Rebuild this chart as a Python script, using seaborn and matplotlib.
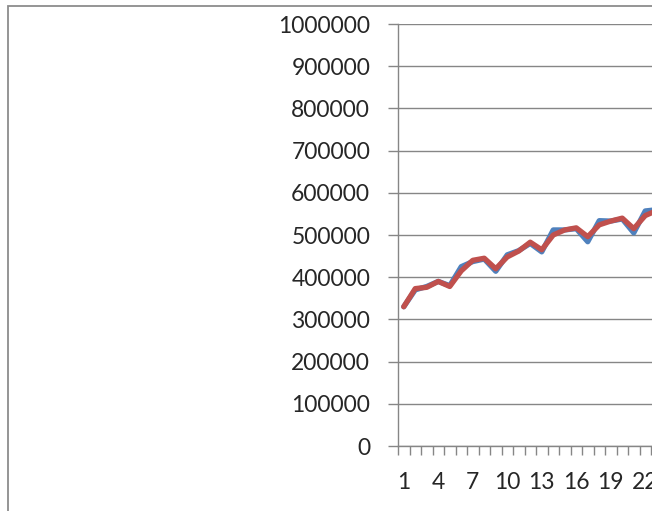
import numpy as np
import pandas as pd
import seaborn as sns
import matplotlib.pyplot as plt
from matplotlib.patches import Rectangle

# Values (only the first ~24 points are visible)
points = list(range(1, 25))
series_a = [330000, 370000, 378000, 390000, 380000, 425000, 437000, 443000,
            414000, 453000, 463000, 480000, 460000, 512000, 512000, 515000,
            484000, 534000, 533000, 538000, 505000, 557000, 560000, 566000]
series_b = [330000, 373000, 376000, 390000, 378000, 415000, 440000, 445000,
            420000, 448000, 462000, 483000, 465000, 500000, 512000, 517000,
            496000, 524000, 533000, 540000, 515000, 546000, 558000, 564000]
y_ticks = list(range(0, 1000001, 100000))

df = pd.DataFrame({
    'idx': list(range(len(points))) * 2,
    'value': series_a + series_b,
    'series': ['A'] * len(points) + ['B'] * len(points),
})

sns.set_style('white')
plt.rcParams['font.family'] = ['Lato', 'DejaVu Sans']

W, H = 659, 511
fig = plt.figure(figsize=(W / 100, H / 100), dpi=100)
fig.patch.set_facecolor('white')

grey = '#868686'
left, right, top, bottom = 398, 652, 24, 446
ax = fig.add_axes([left / W, (H - bottom) / H, (right - left) / W, (bottom - top) / H])

sns.lineplot(data=df, x='idx', y='value', hue='series',
             palette=['#4F81BD', '#C0504D'], linewidth=3.8, legend=False,
             solid_joinstyle='round', solid_capstyle='round', ax=ax)

# category labels every 3, tick marks at every category boundary
ax.set_xticks(range(0, len(points), 3))
ax.set_xticklabels([str(p) for p in points[::3]])
ax.set_xticks(np.arange(-0.5, len(points), 1), minor=True)
ax.tick_params(axis='x', which='major', bottom=False, length=0, pad=19, labelsize=16.5)
ax.tick_params(axis='x', which='minor', bottom=True, direction='out',
               length=6.5, width=1, color=grey)

ax.set_yticks(y_ticks)
ax.set_yticklabels([str(v) for v in y_ticks])
ax.tick_params(axis='y', left=True, direction='out', length=7, width=1,
               color=grey, pad=13, labelsize=16.5)

# set limits after ticks, so they are not widened
step = 11.5
ax.set_xlim(-0.5, -0.5 + (right - left) / step)
ax.set_ylim(0, 1000000)

ax.grid(axis='y', color=grey, linewidth=1)
ax.set_axisbelow(True)
for s in ['top', 'right']:
    ax.spines[s].set_visible(False)
for s in ['left', 'bottom']:
    ax.spines[s].set_color(grey)
    ax.spines[s].set_linewidth(1)
ax.set_xlabel('')
ax.set_ylabel('')

# chart area border
fig.add_artist(Rectangle((8 / W, -0.1), 1.2, 1 - 6 / H + 0.1, transform=fig.transFigure,
                         fill=False, edgecolor='#8c8c8c', linewidth=1.3, zorder=5))
# right edge cropped off
fig.add_artist(Rectangle((right / W, 0), 0.1, 1, transform=fig.transFigure,
                         facecolor='white', edgecolor='none', zorder=10))

fig.savefig('out.png', dpi=100)
